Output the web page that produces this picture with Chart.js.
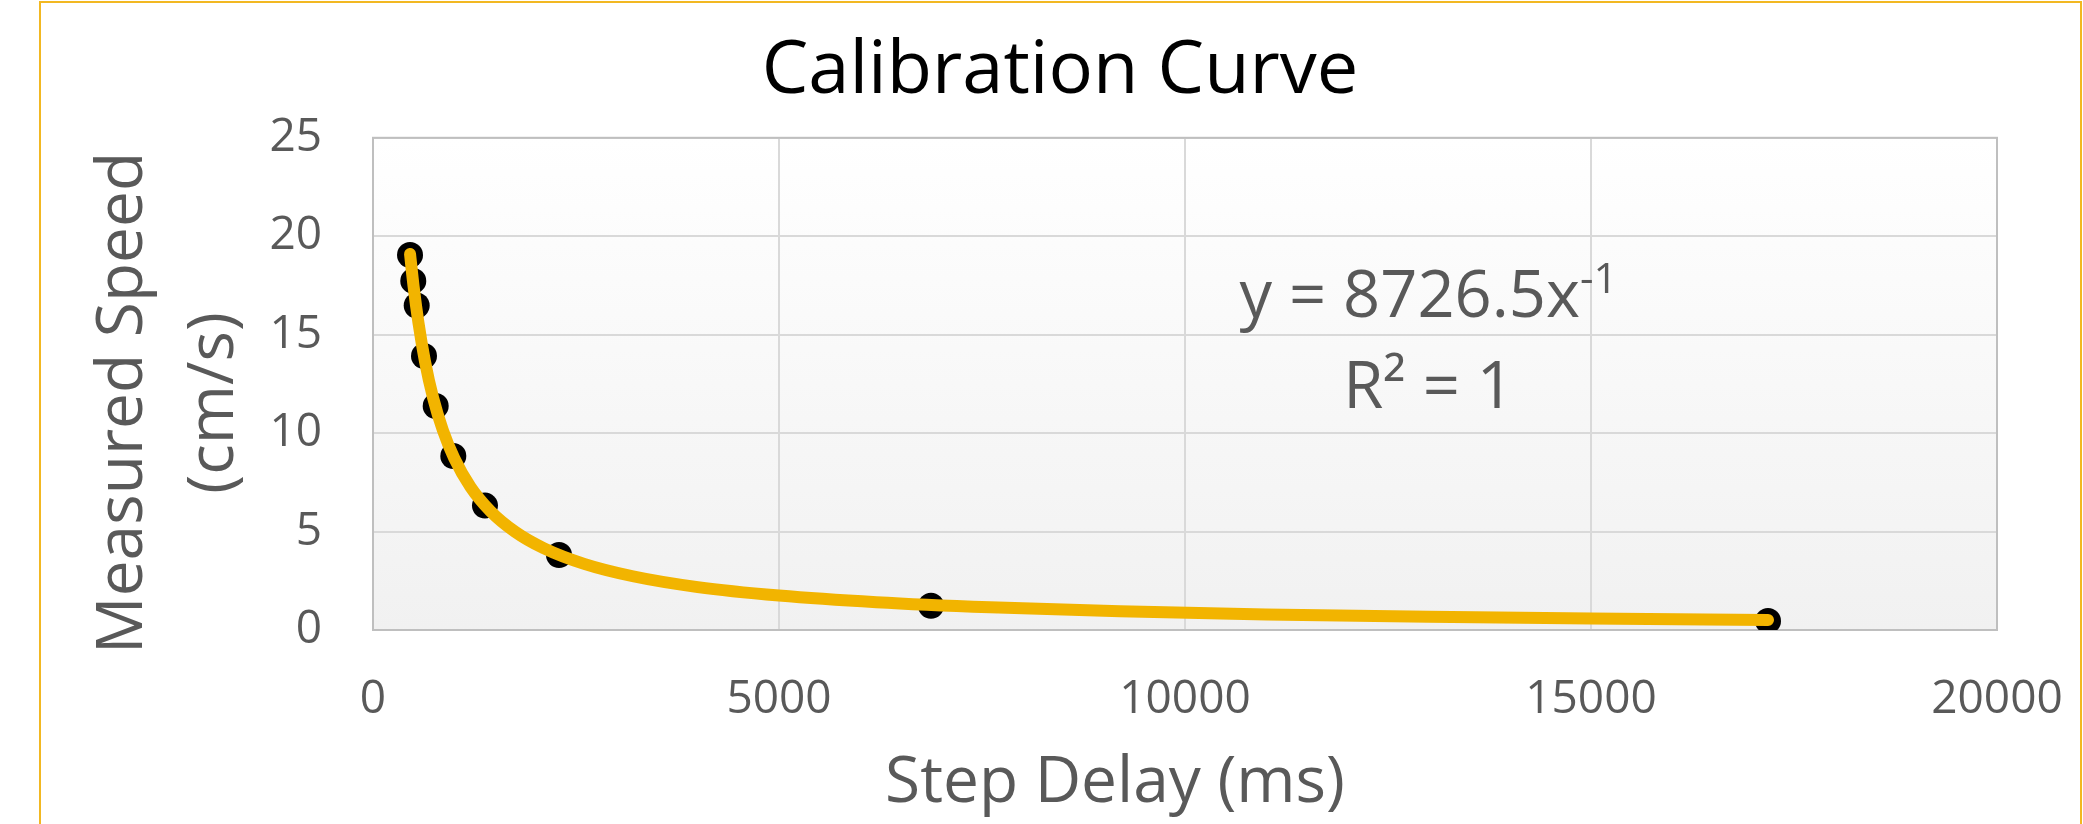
<!DOCTYPE html>
<html>
<head>
<meta charset="utf-8">
<title>Calibration Curve</title>
<script src="https://cdn.jsdelivr.net/npm/chart.js@4.4.0/dist/chart.umd.min.js"></script>
<style>
	html, body { margin: 0; padding: 0; background: #fff; overflow: hidden; }
	#wrap { position: relative; width: 2083px; height: 824px; }
	#wrap canvas { position: absolute; left: 0; top: 0; }
	/* yellow outline of the chart object */
	#frame { position: absolute; left: 39px; top: 1px; width: 2043px; height: 900px; border: 2px solid #f2b822; box-sizing: border-box; }
</style>
</head>
<body>
<div id="wrap">
	<canvas id="chart" width="2083" height="824"></canvas>
	<div id="frame"></div>
</div>
<script>
// measured points
const stepDelay = [456, 496, 538, 628, 772, 989, 1379, 2291, 6872, 17180];
const measuredSpeed = [19.05, 17.73, 16.48, 13.92, 11.38, 8.84, 6.32, 3.81, 1.23, 0.46];

// power trendline
const trendDelay = [456, 500, 560, 640, 740, 860, 1000, 1200, 1450, 1750, 2100, 2600, 3200, 4000, 5000, 6200, 7600, 9200, 11000, 13000, 15000, 17180];
const trendSpeed = [19.1, 17.45, 15.6, 13.65, 11.8, 10.15, 8.73, 7.27, 6.02, 4.99, 4.16, 3.36, 2.73, 2.18, 1.75, 1.41, 1.15, 0.95, 0.79, 0.67, 0.58, 0.51];

// axis ticks
const xTicks = [0, 5000, 10000, 15000, 20000];
const yTicks = [0, 5, 10, 15, 20, 25];

// axis titles
const xTitle = 'Step Delay (ms)';
const yTitle = ['Measured Speed', '(cm/s)'];

// trendline label
const eqBase = 'y = 8726.5x';
const eqExp = '-1';
const eqR2 = 'R² = 1';

const FONT = '"Open Sans", sans-serif';
const GREY = '#595959';

// plot area: gradient fill + grey frame
const plotFrame = {
	id: 'plotFrame',
	beforeDraw(chart) {
		const {ctx, chartArea: a} = chart;
		const g = ctx.createLinearGradient(0, a.top, 0, a.bottom);
		g.addColorStop(0, '#ffffff');
		g.addColorStop(1, '#f1f1f1');
		ctx.save();
		ctx.fillStyle = g;
		ctx.fillRect(a.left, a.top, a.width, a.height);
		ctx.restore();
	},
	beforeDatasetsDraw(chart) {
		const {ctx, chartArea: a} = chart;
		ctx.save();
		ctx.strokeStyle = '#bfbfbf';
		ctx.lineWidth = 2;
		ctx.strokeRect(a.left, a.top, a.width, a.height);
		ctx.restore();
	}
};

// axis titles (placed like the original, a bit off the plot centre) and the trendline equation
const extraText = {
	id: 'extraText',
	afterDraw(chart) {
		const {ctx, chartArea: a, scales} = chart;
		ctx.save();
		ctx.fillStyle = GREY;
		ctx.textBaseline = 'alphabetic';
		ctx.textAlign = 'center';
		ctx.font = '64px ' + FONT;

		ctx.fillText(xTitle, (a.left + a.right) / 2 - 70, 802);

		ctx.save();
		ctx.translate(142, (a.top + a.bottom) / 2 + 19);
		ctx.rotate(-Math.PI / 2);
		yTitle.forEach((line, i) => ctx.fillText(line, 0, i * 91));
		ctx.restore();

		const cx = scales.x.getPixelForValue(13000);
		const by = scales.y.getPixelForValue(15.9);
		ctx.font = '65px ' + FONT;
		const w1 = ctx.measureText(eqBase).width;
		ctx.font = '42px ' + FONT;
		const w2 = ctx.measureText(eqExp).width;
		const x0 = cx - (w1 + w2) / 2;
		ctx.textAlign = 'left';
		ctx.font = '65px ' + FONT;
		ctx.fillText(eqBase, x0, by);
		ctx.font = '42px ' + FONT;
		ctx.fillText(eqExp, x0 + w1, by - 24);
		ctx.textAlign = 'center';
		ctx.font = '65px ' + FONT;
		ctx.fillText(eqR2, cx, by + 91);
		ctx.restore();
	}
};

new Chart(document.getElementById('chart'), {
	type: 'scatter',
	data: {
		datasets: [{
			label: 'Power trendline',
			data: trendDelay.map((x, i) => ({x: x, y: trendSpeed[i]})),
			showLine: true,
			borderColor: '#f2b400',
			borderWidth: 12,
			borderCapStyle: 'round',
			cubicInterpolationMode: 'monotone',
			pointRadius: 0,
			order: 0
		}, {
			label: 'Measured Speed',
			data: stepDelay.map((x, i) => ({x: x, y: measuredSpeed[i]})),
			backgroundColor: '#000',
			borderColor: '#000',
			borderWidth: 0,
			pointRadius: 13,
			order: 1
		}]
	},
	options: {
		responsive: false,
		animation: false,
		layout: { padding: { left: 37, right: 0, top: 0, bottom: 0 } },
		plugins: {
			legend: { display: false },
			tooltip: { enabled: false },
			title: {
				display: true,
				text: 'Calibration Curve',
				color: '#000',
				font: { family: FONT, size: 74, weight: 'normal', lineHeight: 1.2 },
				padding: { top: 28, bottom: 21 }
			}
		},
		scales: {
			x: {
				type: 'linear',
				min: 0,
				max: 20000,
				afterBuildTicks: s => { s.ticks = xTicks.map(v => ({value: v})); },
				afterFit: s => { s.height = 194; },
				grid: { color: '#d9d9d9', lineWidth: 2, drawTicks: false },
				border: { display: false },
				ticks: {
					color: GREY,
					font: { family: FONT, size: 46, lineHeight: 2.26 },
					padding: 18,
					maxRotation: 0,
					autoSkip: false,
					callback: v => String(v)
				}
			},
			y: {
				type: 'linear',
				min: 0,
				max: 25,
				afterBuildTicks: s => { s.ticks = yTicks.map(v => ({value: v})); },
				afterFit: s => { s.width = 336; },
				grid: { color: '#d9d9d9', lineWidth: 2, drawTicks: false },
				border: { display: false },
				ticks: {
					color: GREY,
					font: { family: FONT, size: 46 },
					padding: 51,
					autoSkip: false
				}
			},
			// empty right axis, only reserves space so the plot ends where the original does
			y2: {
				position: 'right',
				grid: { display: false },
				border: { display: false },
				ticks: { display: false },
				afterFit: s => { s.width = 86; }
			}
		}
	},
	plugins: [plotFrame, extraText]
});
</script>
</body>
</html>
